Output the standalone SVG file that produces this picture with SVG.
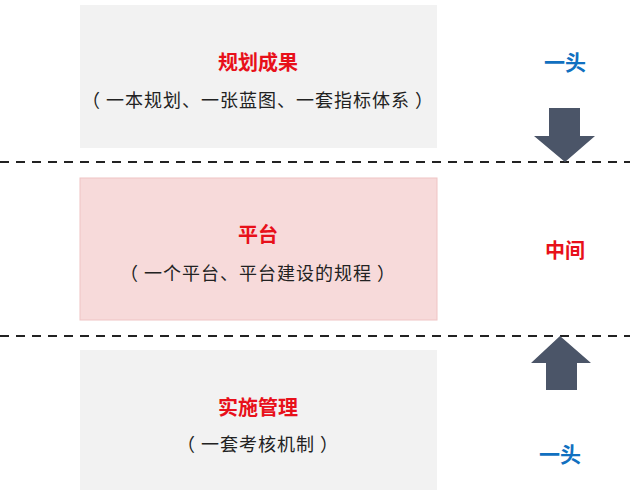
<svg xmlns="http://www.w3.org/2000/svg" width="630" height="496" viewBox="0 0 630 496">
<style>
.t{font-family:"Noto Sans CJK SC",sans-serif;text-anchor:middle}
.h{font-size:20px;font-weight:bold;fill:#e8101a}
.s{font-size:18px;fill:#222;letter-spacing:1px}
.b{font-size:21px;font-weight:bold;fill:#1170c0}
.d{stroke:#222;stroke-width:2;stroke-dasharray:9,7}
.a{fill:#4b5568}
</style>
<rect width="630" height="496" fill="#fff"/>
<g id="node1"><rect x="80" y="5" width="357" height="143" fill="#f2f2f2"/>
<text class="t h" x="258" y="70">规划成果</text>
<text class="t s" x="258" y="107">（ 一本规划、一张蓝图、一套指标体系 ）</text></g>
<g id="node2"><rect x="80" y="178" width="357" height="142" fill="#f7dada" stroke="#efc4c4"/>
<text class="t h" x="258" y="242">平台</text>
<text class="t s" x="258" y="280">（ 一个平台、平台建设的规程 ）</text></g>
<g id="node3"><rect x="80" y="350" width="357" height="140" fill="#f2f2f2"/>
<text class="t h" x="258" y="415">实施管理</text>
<text class="t s" x="258" y="451">（ 一套考核机制 ）</text></g>
<g id="label1"><text class="t b" x="565" y="70">一头</text></g>
<g id="label2"><text class="t h" x="565" y="258">中间</text></g>
<g id="label3"><text class="t b" x="560" y="462">一头</text></g>
<g id="connectors">
<line class="d" x1="0" y1="162" x2="630" y2="162"/>
<line class="d" x1="0" y1="336" x2="630" y2="336"/>
<polygon class="a" points="549,108 580,108 580,136 595,136 565,162 534,136 549,136"/>
<polygon class="a" points="560,336 591,363 577,363 577,390 546,390 546,363 531,363"/>
</g>
</svg>
